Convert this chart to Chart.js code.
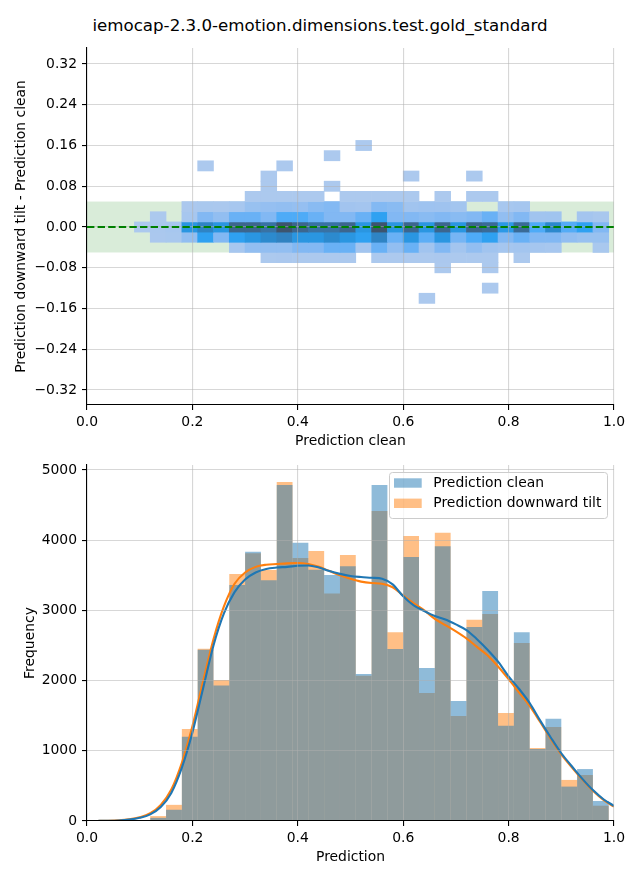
<!DOCTYPE html>
<html><head><meta charset="utf-8">
<script src="https://cdn.jsdelivr.net/npm/chart.js@4.4.1/dist/chart.umd.min.js"></script>
<style>
html,body{margin:0;padding:0;background:#fff;}
#wrap{position:relative;width:640px;height:880px;overflow:hidden;}
canvas{position:absolute;left:0;top:0;}
#title{position:absolute;left:0;top:16px;width:640px;text-align:center;font-family:'DejaVu Sans',sans-serif;font-size:16.67px;line-height:20px;color:#000;white-space:nowrap;}
</style></head><body>
<div id="wrap">
<div id="title">iemocap-2.3.0-emotion.dimensions.test.gold_standard</div>
<canvas id="topChart" width="640" height="880"></canvas>
<canvas id="bottomChart" width="640" height="880"></canvas>
</div>
<script>
// ---------------- DATA ----------------
const binEdges = [0.09,0.12,0.15,0.18,0.21,0.24,0.27,0.30,0.33,0.36,0.39,0.42,0.45,0.48,0.51,0.54,0.57,0.60,0.63,0.66,0.69,0.72,0.75,0.78,0.81,0.84,0.87,0.90,0.93,0.96,0.99];

// histogram counts per bin (bottom panel)
const cleanHist = [5,45,160,1200,2440,1930,3360,3835,3430,4785,3965,3580,3505,3630,2095,4785,2450,3760,2180,3915,1710,2765,3275,1355,2690,1025,1455,490,740,285];
const tiltHist  = [3,70,230,1310,2455,2010,3520,3815,3575,4830,3745,3845,3240,3790,2070,4415,2690,4060,1825,4105,1495,2865,2950,1540,2535,1040,1340,585,655,218];

// KDE curves (bottom panel)
const kdeX = [0,0.02,0.04,0.06,0.08,0.10,0.12,0.14,0.16,0.18,0.20,0.22,0.24,0.26,0.28,0.30,0.32,0.34,0.36,0.38,0.40,0.42,0.44,0.46,0.48,0.50,0.52,0.54,0.56,0.58,0.60,0.62,0.64,0.66,0.68,0.70,0.72,0.74,0.76,0.78,0.80,0.82,0.84,0.86,0.88,0.90,0.92,0.94,0.96,0.98,1.00];
const kdeClean = [0,1,3,8,20,45,95,200,400,760,1260,1880,2500,2960,3260,3440,3540,3590,3610,3620,3635,3640,3610,3560,3520,3490,3475,3465,3450,3370,3200,3070,2990,2920,2870,2800,2720,2590,2440,2270,2060,1880,1680,1430,1190,965,780,600,440,310,215];
const kdeTilt  = [0,1,3,9,23,52,110,230,450,830,1350,1980,2590,3060,3380,3540,3620,3650,3660,3670,3675,3660,3620,3560,3500,3450,3410,3390,3380,3330,3210,3100,3000,2880,2790,2700,2600,2480,2360,2200,2020,1830,1640,1410,1170,950,765,590,430,300,205];

// 2D histogram (top panel): rows = difference bins (centres), columns = binEdges bins
const heatRowCenters = [0.16,0.14,0.12,0.10,0.08,0.06,0.04,0.02,0,-0.02,-0.04,-0.06,-0.08,-0.10,-0.12,-0.14];
const heatRowHeight = 0.02;
const heatCounts = [
 [0,0,0,0,0,0,0,0,0,0,0,0,0,0,1,0,0,0,0,0,0,0,0,0,0,0,0,0,0,0],
 [0,0,0,0,0,0,0,0,0,0,0,0,1,0,0,0,0,0,0,0,0,0,0,0,0,0,0,0,0,0],
 [0,0,0,0,1,0,0,0,0,1,0,0,0,0,0,0,0,0,0,0,0,0,0,0,0,0,0,0,0,0],
 [0,0,0,0,0,0,0,0,1,0,0,0,0,0,0,0,0,1,0,0,0,1,0,0,0,0,0,0,0,0],
 [0,0,0,0,0,0,0,0,2,0,0,0,1,0,0,0,0,0,0,0,0,0,0,0,0,0,0,0,0,0],
 [0,0,0,0,0,0,0,3,5,6,4,4,0,5,3,6,4,3,0,3,0,2,2,0,0,0,0,0,0,0],
 [0,0,0,20,40,30,60,200,230,260,230,330,380,110,90,380,330,120,150,140,100,0,0,60,80,0,0,0,0,0],
 [0,10,0,60,390,260,570,570,390,730,730,570,390,390,570,940,390,390,330,390,330,390,570,260,390,120,130,0,90,50],
 [5,30,60,1170,1560,1170,2210,2210,1950,2600,2210,1950,1950,2210,1170,2600,1170,2210,1170,2210,1170,2210,2100,1100,2100,730,1450,700,940,390],
 [0,20,40,260,940,390,940,1170,1430,1600,1170,1170,1430,1170,940,1560,570,1170,650,1170,480,730,940,390,570,390,390,260,200,200],
 [0,0,0,0,0,0,60,260,260,260,390,390,570,570,100,570,260,570,120,390,100,260,120,80,100,80,60,0,0,40],
 [0,0,0,0,0,0,0,0,10,12,10,8,10,6,0,10,8,8,10,12,8,10,10,0,5,0,0,0,0,0],
 [0,0,0,0,0,0,0,0,0,0,0,0,0,0,0,0,0,0,0,2,0,0,2,0,0,0,0,0,0,0],
 [0,0,0,0,0,0,0,0,0,0,0,0,0,0,0,0,0,0,0,0,0,0,0,0,0,0,0,0,0,0],
 [0,0,0,0,0,0,0,0,0,0,0,0,0,0,0,0,0,0,0,0,0,0,1,0,0,0,0,0,0,0],
 [0,0,0,0,0,0,0,0,0,0,0,0,0,0,0,0,0,0,1,0,0,0,0,0,0,0,0,0,0,0]
];
const bandLow = -0.05, bandHigh = 0.05, zeroLine = 0;

// tick labels
const xTicks = [0,0.2,0.4,0.6,0.8,1.0];
const yTicksTop = [-0.32,-0.24,-0.16,-0.08,0,0.08,0.16,0.24,0.32];
const yTicksBottom = [0,1000,2000,3000,4000,5000];
const seriesLabels = ['Prediction clean','Prediction downward tilt'];

// ---------------- COLORMAP (seaborn light->dark ramp from C0 via HUSL) ----------------
const husl = (() => {
  const m = [[3.2406,-1.5372,-0.4986],[-0.9689,1.8758,0.0415],[0.0557,-0.2040,1.0570]];
  const mInv = [[0.4124,0.3576,0.1805],[0.2126,0.7152,0.0722],[0.0193,0.1192,0.9505]];
  const refY = 1.0, refU = 0.19784, refV = 0.46834, labE = 0.008856, labK = 903.3;
  function maxChroma(L, H) {
    const hrad = H * Math.PI / 180, sinH = Math.sin(hrad), cosH = Math.cos(hrad);
    const sub1 = Math.pow(L + 16, 3) / 1560896;
    const sub2 = sub1 > 0.008856 ? sub1 : L / 903.3;
    let result = Infinity;
    for (const [m1, m2, m3] of m) {
      const top = (0.99915 * m1 + 1.05122 * m2 + 1.14460 * m3) * sub2;
      const rbottom = 0.86330 * m3 - 0.17266 * m2;
      const lbottom = 0.12949 * m3 - 0.38848 * m1;
      const bottom = (rbottom * sinH + lbottom * cosH) * sub2;
      for (const t of [0, 1]) {
        const C = L * (top - 1.05122 * t) / (bottom + 0.17266 * sinH * t);
        if (C > 0 && C < result) result = C;
      }
    }
    return result;
  }
  const f = t => t > labE ? Math.pow(t, 1 / 3) : 7.787 * t + 16 / 116;
  const fInv = t => Math.pow(t, 3) > labE ? Math.pow(t, 3) : (116 * t - 16) / labK;
  const fromLin = c => c <= 0.0031308 ? 12.92 * c : 1.055 * Math.pow(c, 1 / 2.4) - 0.055;
  const toLin = c => c > 0.04045 ? Math.pow((c + 0.055) / 1.055, 2.4) : c / 12.92;
  const dot = (a, b) => a[0] * b[0] + a[1] * b[1] + a[2] * b[2];
  function toRgb(h, s, l) {
    let L = l, C, H = h;
    if (l > 99.9999999) { L = 100; C = 0; } else if (l < 1e-8) { L = 0; C = 0; } else { C = maxChroma(l, h) / 100 * s; }
    const hr = H * Math.PI / 180, U = Math.cos(hr) * C, V = Math.sin(hr) * C;
    if (L === 0) return [0, 0, 0];
    const varY = fInv((L + 16) / 116);
    const varU = U / (13 * L) + refU, varV = V / (13 * L) + refV;
    const Y = varY * refY;
    const X = 0 - (9 * Y * varU) / ((varU - 4) * varV - varU * varV);
    const Z = (9 * Y - 15 * varV * Y - varV * X) / (3 * varV);
    return m.map(row => fromLin(dot(row, [X, Y, Z])));
  }
  function fromRgb(r, g, b) {
    const lin = [r, g, b].map(toLin);
    const [X, Y, Z] = mInv.map(row => dot(row, lin));
    const varU = 4 * X / (X + 15 * Y + 3 * Z), varV = 9 * Y / (X + 15 * Y + 3 * Z);
    const L = 116 * f(Y / refY) - 16;
    const U = 13 * L * (varU - refU), V = 13 * L * (varV - refV);
    const C = Math.sqrt(U * U + V * V);
    let H = Math.atan2(V, U) * 180 / Math.PI; if (H < 0) H += 360;
    const S = C / maxChroma(L, H) * 100;
    return [H, S, L];
  }
  return { toRgb, fromRgb };
})();

const rampColors = (() => {
  const [h, s] = husl.fromRgb(0x1f / 255, 0x77 / 255, 0xb4 / 255);
  const n = Math.floor(1.15 * 256);
  const cols = [];
  for (let i = 0; i < 256; i++) {
    const xx = -1 + 2 * i / (n - 1);
    const L = 35 + 45 * i / 255;
    const rgb = husl.toRgb(h, s * Math.cos(xx), L).map(c => Math.round(255 * Math.min(1, Math.max(0, c))));
    cols.push(`rgb(${rgb[0]},${rgb[1]},${rgb[2]})`);
  }
  return cols.reverse();
})();
const allCounts = heatCounts.flat().filter(c => c > 0);
const vmin = Math.min(...allCounts), vmax = Math.max(...allCounts);
function cmap(c) {
  const t = (c - vmin) / (vmax - vmin);
  const idx = Math.min(255, Math.max(0, Math.floor(t * 256)));
  return rampColors[idx];
}

// ---------------- COMMON STYLE ----------------
const FONT = { family: "'DejaVu Sans', sans-serif", size: 13.9 };
const GRID = 'rgba(176,176,176,0.5)';
const fmtSigned = (v, d) => (v < -1e-9 ? '\u2212' : '') + Math.abs(v).toFixed(d);
const binCenters = binEdges.slice(0, -1).map((e, i) => Math.round((e + binEdges[i + 1]) / 2 * 10000) / 10000);

function xAxis(label, height, titlePadBottom) {
  return {
    type: 'linear', min: 0, max: 1, offset: false,
    afterBuildTicks: s => { s.ticks = xTicks.map(v => ({ value: v })); },
    afterFit: s => { s.height = height; },
    grid: { color: GRID, lineWidth: 1.1, tickColor: '#000', tickLength: 5, tickWidth: 1.1, offset: false, z: 1 },
    border: { display: true, color: '#000', width: 1.1, z: 2 },
    ticks: { color: '#000', font: FONT, padding: 4, maxRotation: 0, autoSkip: false, callback: v => fmtSigned(v, 1) },
    title: { display: true, text: label, color: '#000', font: FONT, padding: { top: 0, bottom: titlePadBottom } }
  };
}
function yAxis(min, max, ticks, digits, label, titlePadTop) {
  return {
    type: 'linear', min, max,
    afterBuildTicks: s => { s.ticks = ticks.map(v => ({ value: v })); },
    afterFit: s => { s.width = 87; },
    grid: { color: GRID, lineWidth: 1.1, tickColor: '#000', tickLength: 5, tickWidth: 1.1, z: 1 },
    border: { display: true, color: '#000', width: 1.1, z: 2 },
    ticks: { color: '#000', font: FONT, padding: 5, autoSkip: false, callback: v => fmtSigned(v, digits) },
    title: { display: true, text: label, color: '#000', font: FONT, padding: { top: titlePadTop, bottom: 0 } }
  };
}

// ---------------- TOP CHART ----------------
const heatDatasets = heatRowCenters.map((yc, r) => {
  const data = [], colors = [];
  heatCounts[r].forEach((c, k) => {
    if (c > 0) {
      data.push({ x: binCenters[k], y: [yc - heatRowHeight / 2, yc + heatRowHeight / 2] });
      colors.push(cmap(c));
    }
  });
  return { type: 'bar', data, backgroundColor: colors, borderWidth: 0, grouped: false, barPercentage: 1, categoryPercentage: 1 };
});

const bandPlugin = {
  id: 'band',
  beforeDatasetsDraw(chart) {
    const { ctx, chartArea: a, scales: { y } } = chart;
    const y1 = y.getPixelForValue(bandHigh), y2 = y.getPixelForValue(bandLow);
    ctx.save();
    ctx.fillStyle = 'rgba(0,128,0,0.15)';
    ctx.fillRect(a.left, y1, a.right - a.left, y2 - y1);
    ctx.restore();
  },
  afterDraw(chart) {
    const { ctx, chartArea: a, scales: { y } } = chart;
    const yy = y.getPixelForValue(zeroLine);
    ctx.save();
    ctx.strokeStyle = '#008000';
    ctx.lineWidth = 2;
    ctx.setLineDash([7.4, 3.2]);
    ctx.beginPath(); ctx.moveTo(a.left, yy); ctx.lineTo(a.right, yy); ctx.stroke();
    ctx.restore();
  }
};

new Chart(document.getElementById('topChart'), {
  type: 'bar',
  data: { datasets: heatDatasets },
  options: {
    responsive: false, animation: false, devicePixelRatio: 1,
    layout: { padding: { left: 0, right: 26, top: 48, bottom: 425 } },
    plugins: { legend: { display: false }, tooltip: { enabled: false } },
    scales: {
      x: xAxis('Prediction clean', 50, 5.6),
      y: yAxis(-0.3494, 0.3514, yTicksTop, 2, 'Prediction downward tilt - Prediction clean', 12.7)
    }
  },
  plugins: [bandPlugin]
});

// ---------------- BOTTOM CHART ----------------
const legendPlugin = {
  id: 'boxLegend',
  afterDraw(chart) {
    const ctx = chart.ctx;
    const items = seriesLabels.map(l => chart.data.datasets.find(d => d.type === 'bar' && d.label === l));
    ctx.save();
    const x = 389.5, y = 472.5, w = 218, h = 46, r = 3;
    ctx.beginPath();
    ctx.roundRect(x, y, w, h, r);
    ctx.fillStyle = 'rgba(255,255,255,0.8)'; ctx.fill();
    ctx.strokeStyle = '#cccccc'; ctx.lineWidth = 1; ctx.stroke();
    ctx.font = "13.9px 'DejaVu Sans'";
    ctx.textBaseline = 'middle';
    items.forEach((d, i) => {
      const cy = 483 + i * 20.3;
      ctx.fillStyle = d.backgroundColor;
      ctx.fillRect(394, cy - 4.7, 27.7, 9.4);
      ctx.fillStyle = '#000';
      ctx.fillText(d.label, 433.3, cy + 0.5);
    });
    ctx.restore();
  }
};

new Chart(document.getElementById('bottomChart'), {
  type: 'bar',
  data: {
    datasets: [
      { type: 'line', label: 'kde clean', data: kdeX.map((x, i) => ({ x, y: kdeClean[i] })), borderColor: '#1f77b4', borderWidth: 2.1, pointRadius: 0, cubicInterpolationMode: 'monotone', order: 0 },
      { type: 'line', label: 'kde tilt', data: kdeX.map((x, i) => ({ x, y: kdeTilt[i] })), borderColor: '#ff7f0e', borderWidth: 2.1, pointRadius: 0, cubicInterpolationMode: 'monotone', order: 1 },
      { type: 'bar', label: seriesLabels[0], data: binCenters.map((x, i) => ({ x, y: cleanHist[i] })), backgroundColor: 'rgba(31,119,180,0.5)', borderWidth: 0, grouped: false, barPercentage: 1, categoryPercentage: 1, inflateAmount: 0, order: 2 },
      { type: 'bar', label: seriesLabels[1], data: binCenters.map((x, i) => ({ x, y: tiltHist[i] })), backgroundColor: 'rgba(255,127,14,0.5)', borderWidth: 0, grouped: false, barPercentage: 1, categoryPercentage: 1, inflateAmount: 0, order: 3 }
    ]
  },
  options: {
    responsive: false, animation: false, devicePixelRatio: 1,
    layout: { padding: { left: 0, right: 26, top: 465, bottom: 0 } },
    plugins: { legend: { display: false }, tooltip: { enabled: false } },
    scales: {
      x: xAxis('Prediction', 59, 14.6),
      y: yAxis(0, 5071, yTicksBottom, 0, 'Frequency', 21.6)
    }
  },
  plugins: [legendPlugin]
});
</script>
</body></html>
